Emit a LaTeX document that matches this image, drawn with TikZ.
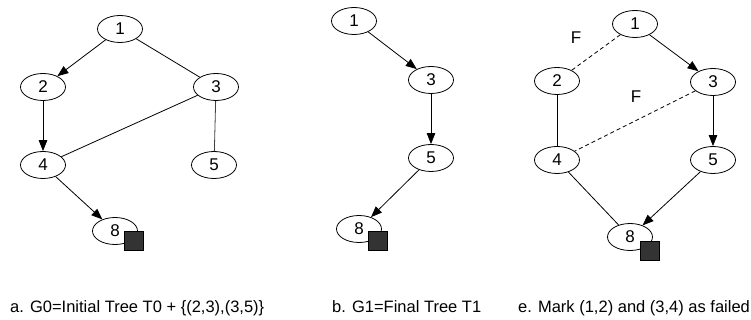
\documentclass[tikz,border=0pt]{standalone}
\usepackage{fontspec}
\setmainfont{Liberation Sans}
\usetikzlibrary{arrows.meta,shapes.geometric}
\begin{document}
\begin{tikzpicture}[x=1pt,y=-1pt,
  vtx/.style={draw,ellipse,line width=0.8pt,minimum width=45pt,minimum height=27pt,inner sep=0pt,font=\fontsize{17}{17}\selectfont},
  sink/.style={draw,line width=0.8pt,fill=black!80,minimum size=19pt,inner sep=0pt},
  edge/.style={line width=0.8pt},
  arc/.style={line width=0.8pt,-{Triangle[length=11pt,width=8.5pt]}},
  failed/.style={line width=0.8pt,dashed,dash pattern=on 4pt off 3pt},
  caption/.style={anchor=base west,inner sep=0pt,font=\fontsize{16.5}{16.5}\selectfont},
  flabel/.style={font=\fontsize{17}{17}\selectfont}]
\useasboundingbox (0,0) rectangle (751,320);

% panel a
\node[vtx] (a1) at (120,29) {1};
\node[vtx] (a2) at (43,87) {2};
\node[vtx] (a3) at (216,87) {3};
\node[vtx] (a4) at (43,165) {4};
\node[vtx] (a5) at (214,165) {5};
\node[vtx] (a8) at (115,231) {8};
\node[sink] (as) at (134,241) {};
\draw[arc] (a1) -- (a2);
\draw[edge] (a1) -- (a3);
\draw[arc] (a2) -- (a4);
\draw[edge] (a3) -- (a4);
\draw[edge,black!75] (a3) -- (a5);
\draw[arc] (a4) -- (a8);
\node[caption] (capa) at (10,312) {a. G0=Initial Tree T0 + \{(2,3),(3,5)\}};

% panel b
\node[vtx] (b1) at (354,21) {1};
\node[vtx] (b3) at (431,80) {3};
\node[vtx] (b5) at (431,158) {5};
\node[vtx] (b8) at (359,229) {8};
\node[sink] (bs) at (378,241) {};
\draw[arc] (b1) -- (b3);
\draw[arc] (b3) -- (b5);
\draw[arc] (b5) -- (b8);
\node[caption] (capb) at (332,312) {b. G1=Final Tree T1};

% panel e
\node[vtx] (e1) at (635,24) {1};
\node[vtx] (e2) at (557,81) {2};
\node[vtx] (e3) at (713,82) {3};
\node[vtx] (e4) at (557,160) {4};
\node[vtx] (e5) at (713,160) {5};
\node[vtx] (e8) at (630,237) {8};
\node[sink] (es) at (649.5,251) {};
\draw[failed] (e1) -- (e2);
\draw[arc] (e1) -- (e3);
\draw[edge] (e2) -- (e4);
\draw[failed] (e3) -- (e4);
\draw[arc] (e3) -- (e5);
\draw[edge] (e4) -- (e8);
\draw[arc] (e5) -- (e8);
\node[flabel] (f1) at (576,38) {F};
\node[flabel] (f2) at (636,97) {F};
\node[caption] (cape) at (518,312) {e. Mark (1,2) and (3,4) as failed};
\end{tikzpicture}
\end{document}
